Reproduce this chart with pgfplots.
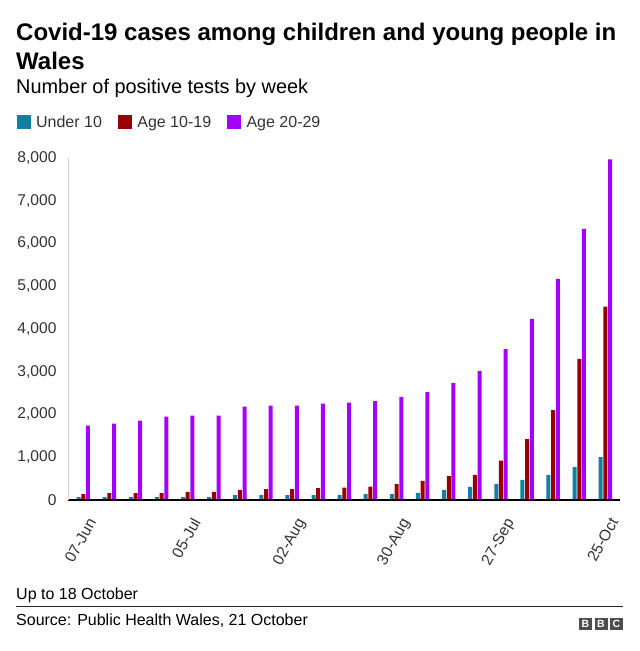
\documentclass[border=0pt]{standalone}
\usepackage{fontspec}
\setmainfont{Liberation Sans}
\usepackage{pgfplots}
\usepackage{pgfplotstable}
\pgfplotsset{compat=1.18}
\definecolor{cteal}{HTML}{1380A1}
\definecolor{cred}{HTML}{990000}
\definecolor{cpurp}{HTML}{A500FA}
\definecolor{bbcgray}{HTML}{4D4D4D}
\pgfplotsset{sqlegend/.style={legend image code/.code={\fill[##1] (0pt,-6.75pt) rectangle (14pt,6.75pt);}}}
\newcommand{\fs}{\fontsize{15.6}{18}\selectfont}
\newcommand{\fl}{\fontsize{16}{18}\selectfont}
\pgfplotstableread{
i teal red purple
0 70 140 1740
1 70 160 1785
2 70 160 1855
3 70 160 1950
4 70 190 1975
5 70 190 1975
6 115 235 2185
7 115 255 2205
8 115 255 2205
9 115 280 2255
10 120 290 2275
11 140 315 2315
12 140 375 2410
13 165 445 2525
14 235 560 2735
15 305 585 3015
16 375 920 3530
17 470 1425 4235
18 585 2105 5170
19 770 3300 6340
20 1005 4525 7970
}\data
\begin{document}
\begin{tikzpicture}
\path[use as bounding box] (0,0) rectangle (640pt,651pt);
\node[anchor=base west, inner sep=0pt, font=\fontsize{24}{28}\selectfont\bfseries] at (16pt,610.3pt) {Covid-19 cases among children and young people in};
\node[anchor=base west, inner sep=0pt, font=\fontsize{24}{28}\selectfont\bfseries] at (16pt,581.7pt) {Wales};
\node[anchor=base west, inner sep=0pt, font=\fontsize{19.9}{22}\selectfont] at (16pt,557.7pt) {Number of positive tests by week};
\begin{axis}[
  at={(68pt,151pt)}, anchor=south west, scale only axis, width=552pt, height=342pt,
  ybar=0.7pt, bar width=4pt,
  xmin=-0.586, xmax=20.56, ymin=0, ymax=8000,
  enlarge x limits=false, enlarge y limits=false,
  axis on top,
  axis x line*=bottom, axis y line*=left,
  x axis line style={-, black, line width=2.7pt},
  y axis line style={-, black!18, line width=0.8pt},
  major tick length=0pt,
  xtick={0.14,4.14,8.14,12.14,16.14,20.14},
  xticklabels={07-Jun,05-Jul,02-Aug,30-Aug,27-Sep,25-Oct},
  ytick={0,1000,...,8000},
  scaled y ticks=false,
  /pgf/number format/assume math mode=true,
  /pgf/number format/1000 sep={,},
  yticklabel style={font=\fs, text=black!80, anchor=east, inner sep=0pt, xshift=-11.3pt},
  xticklabel shift=16.5pt,
  xticklabel style={font=\fs, text=black!80, inner sep=0pt, rotate=61, anchor=north east},
  legend columns=3,
  legend style={at={(-0.0929,1.1053)}, anchor=west, draw=none, fill=none, inner sep=0pt, outer sep=0pt, font=\fl, text=black!80, column sep=0pt, cells={anchor=west}, nodes={inner sep=0pt, text height=11.4pt, text depth=0pt}, /tikz/every odd column/.append style={column sep=5.4pt}, /tikz/every even column/.append style={column sep=16pt}},
]
\addplot[fill=cteal, draw=none, sqlegend] table[x=i, y=teal] {\data};
\addlegendentry{Under 10}
\addplot[fill=cred, draw=none, sqlegend] table[x=i, y=red] {\data};
\addlegendentry{Age 10-19}
\addplot[fill=cpurp, draw=none, sqlegend] table[x=i, y=purple] {\data};
\addlegendentry{Age 20-29}
\end{axis}
\node[anchor=base west, inner sep=0pt, font=\fl] at (16pt,51pt) {Up to 18 October};
\draw[line width=1pt, black!85] (16pt,44.3pt) -- (623pt,44.3pt);
\node[anchor=base west, inner sep=0pt, font=\fl] at (16pt,25.3pt) {Source: Public Health Wales, 21 October};
\fill[bbcgray] (579pt,21.3pt) rectangle (592pt,33.3pt);
\fill[bbcgray] (594.5pt,21.3pt) rectangle (607.5pt,33.3pt);
\fill[bbcgray] (610pt,21.3pt) rectangle (623pt,33.3pt);
\node[white, inner sep=0pt, font=\fontsize{10.5}{12}\selectfont\bfseries] at (585.5pt,27.3pt) {B};
\node[white, inner sep=0pt, font=\fontsize{10.5}{12}\selectfont\bfseries] at (601pt,27.3pt) {B};
\node[white, inner sep=0pt, font=\fontsize{10.5}{12}\selectfont\bfseries] at (616.5pt,27.3pt) {C};
\end{tikzpicture}
\end{document}
